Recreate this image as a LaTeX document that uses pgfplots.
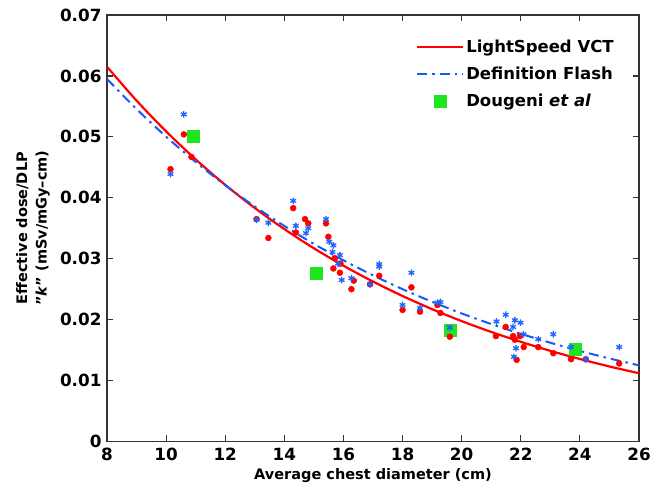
\documentclass[border=0pt]{standalone}
\usepackage{fontspec}
\setmainfont{DejaVu Sans}
\usepackage{pgfplots}
\pgfplotsset{compat=1.18}
\definecolor{rline}{rgb}{1,0,0}
\definecolor{bline}{RGB}{20,90,255}
\definecolor{bstar}{RGB}{30,100,255}
\definecolor{gsq}{RGB}{30,230,30}
\pgfplotsset{
  linelegend/.style={legend image code/.code={\draw[##1] (0pt,0pt) -- (46pt,0pt);}},
  marklegend/.style={legend image code/.code={\draw[##1] plot coordinates {(23pt,0pt)};}},
}
\begin{document}
\fontsize{16}{19}\selectfont\bfseries
\begin{tikzpicture}
\path[use as bounding box] (-107pt,-48.5pt) rectangle (550pt,441.5pt);
\begin{axis}[
  at={(0pt,0pt)}, anchor=south west,
  scale only axis, width=532pt, height=426.5pt,
  xmin=8, xmax=26, ymin=0, ymax=0.07,
  scaled y ticks=false, scaled x ticks=false,
  xtick={8,10,...,26},
  xticklabels={8,10,12,14,16,18,20,22,24,26},
  ytick={0,0.01,0.02,0.03,0.04,0.05,0.06,0.07},
  yticklabels={0,0.01,0.02,0.03,0.04,0.05,0.06,0.07},
  tick align=inside,
  major tick length=6pt,
  axis line style={line width=1.2pt, black!80},
  tick style={line width=1.2pt, black!80},
  ticklabel style={font=\fontsize{16.8}{19}\selectfont\bfseries},
  xticklabel style={yshift=-1pt},
  yticklabel style={xshift=0pt},
  xlabel={Average chest diameter (cm)},
  xlabel style={font=\fontsize{14.5}{17}\selectfont\bfseries, yshift=3pt},
  ylabel={Effective dose/DLP\\"\textit{k}" (mSv/mGy--cm)},
  ylabel style={font=\fontsize{14.5}{19.5}\selectfont\bfseries, align=center,
    at={(axis description cs:-0.097,0.5)}, anchor=south},
  legend cell align=left,
  legend style={draw=none, fill=none, at={(axis description cs:0.575,0.952)}, anchor=north west,
    font=\fontsize{16.5}{20}\selectfont\bfseries, row sep=8pt},
]
\addlegendimage{linelegend, color=rline, line width=2.2pt}
\addlegendentry{LightSpeed VCT}
\addlegendimage{linelegend, color=bline, line width=2pt, dash pattern=on 10pt off 5pt on 2.5pt off 5pt}
\addlegendentry{Definition Flash}
\addlegendimage{only marks, marklegend, mark=square*, mark size=6pt, color=gsq}
\addlegendentry{Dougeni \textit{et al}}

% Dougeni et al
\addplot[forget plot, only marks, mark=square*, mark size=6pt, color=gsq] coordinates {
(10.91,0.0501) (15.09,0.0276) (19.60,0.0183) (23.83,0.0151)
};
% LightSpeed VCT data
\addplot[forget plot, only marks, mark=*, mark size=3pt, color=red] coordinates {
(10.15,0.0447) (10.60,0.0504) (10.86,0.0467) (13.06,0.0365) (13.46,0.0334)
(14.30,0.0383) (14.39,0.0343) (14.70,0.0365) (14.81,0.0358) (15.41,0.0358)
(15.49,0.0336) (15.71,0.0301) (15.66,0.0284) (15.88,0.0277) (15.90,0.0292)
(16.35,0.0264) (16.27,0.0250) (16.90,0.0258) (17.21,0.0272) (18.30,0.0253)
(18.00,0.0216) (18.59,0.0213) (19.18,0.0224) (19.28,0.0211) (19.60,0.0172)
(21.16,0.0173) (21.49,0.0188) (21.74,0.0173) (21.80,0.0167) (21.97,0.0173)
(22.10,0.0155) (21.86,0.0134) (22.59,0.0155) (23.10,0.0145) (23.70,0.0135)
(24.20,0.0135) (25.33,0.0128)
};
% Definition Flash data
\addplot[forget plot, only marks, mark=asterisk, mark size=3.3pt, color=bstar, mark options={line width=1.3pt}] coordinates {
(10.15,0.0439) (10.60,0.0537) (13.06,0.0364) (13.46,0.0359) (14.30,0.0395)
(14.39,0.0354) (14.73,0.0342) (14.81,0.0350) (15.41,0.0365) (15.52,0.0328)
(15.66,0.0322) (15.63,0.0311) (15.88,0.0306) (15.82,0.0292) (15.94,0.0265)
(16.27,0.0268) (16.90,0.0258) (17.21,0.0291) (17.21,0.0287) (18.30,0.0277)
(18.00,0.0224) (18.59,0.0219) (19.18,0.0228) (19.28,0.0229) (19.60,0.0187)
(21.18,0.0197) (21.49,0.0208) (21.74,0.0188) (21.80,0.0199) (21.99,0.0195)
(22.09,0.0176) (21.84,0.0153) (21.77,0.0139) (22.59,0.0168) (23.10,0.0176)
(23.70,0.0155) (24.20,0.0135) (25.33,0.0155)
};
% LightSpeed VCT fit
\addplot[forget plot, color=rline, line width=2.2pt, smooth] coordinates {
(8,0.0615) (9,0.05595) (10,0.05090) (11,0.04630) (12,0.04212) (13,0.03832)
(14,0.03486) (15,0.03171) (16,0.02885) (17,0.02625) (18,0.02388) (19,0.02172)
(20,0.01976) (21,0.01798) (22,0.01636) (23,0.01488) (24,0.01354) (25,0.01231) (26,0.01120)
};
% Definition Flash fit
\addplot[forget plot, color=bline, line width=2pt, smooth, dash pattern=on 10pt off 5pt on 2.5pt off 5pt] coordinates {
(8,0.0595) (9,0.05456) (10,0.05003) (11,0.04587) (12,0.04206) (13,0.03857)
(14,0.03537) (15,0.03243) (16,0.02974) (17,0.02727) (18,0.02500) (19,0.02293)
(20,0.02102) (21,0.01928) (22,0.01768) (23,0.01621) (24,0.01486) (25,0.01363) (26,0.01250)
};
\end{axis}
\end{tikzpicture}
\end{document}
